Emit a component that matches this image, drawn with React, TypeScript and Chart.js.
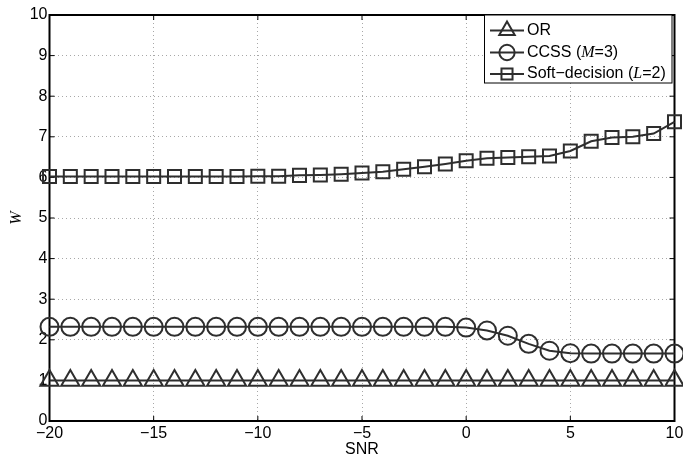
import React, { useEffect, useRef } from 'react';
import { Chart, registerables } from 'chart.js';

Chart.register(...registerables);

const snrValues = [-20, -19, -18, -17, -16, -15, -14, -13, -12, -11, -10, -9, -8, -7, -6, -5, -4, -3, -2, -1, 0, 1, 2, 3, 4, 5, 6, 7, 8, 9, 10];
const orValues = [1, 1, 1, 1, 1, 1, 1, 1, 1, 1, 1, 1, 1, 1, 1, 1, 1, 1, 1, 1, 1, 1, 1, 1, 1, 1, 1, 1, 1, 1, 1];
const ccssValues = [2.32, 2.32, 2.32, 2.32, 2.32, 2.32, 2.32, 2.32, 2.32, 2.32, 2.32, 2.32, 2.32, 2.32, 2.32, 2.32, 2.32, 2.32, 2.32, 2.32, 2.3, 2.23, 2.1, 1.9, 1.73, 1.67, 1.66, 1.66, 1.66, 1.66, 1.66];
const softValues = [6.02, 6.02, 6.02, 6.02, 6.02, 6.02, 6.02, 6.02, 6.02, 6.02, 6.03, 6.03, 6.05, 6.06, 6.08, 6.11, 6.14, 6.2, 6.26, 6.33, 6.41, 6.47, 6.49, 6.51, 6.53, 6.65, 6.89, 6.98, 7.0, 7.08, 7.37];
const xTickValues = [-20, -15, -10, -5, 0, 5, 10];
const yTickValues = [0, 1, 2, 3, 4, 5, 6, 7, 8, 9, 10];
const seriesNames = ['OR', 'CCSS (M=3)', 'Soft\u2013decision (L=2)'];
const legendParts = [
  [{ t: 'OR', i: false }],
  [{ t: 'CCSS (', i: false }, { t: 'M', i: true }, { t: '=3)', i: false }],
  [{ t: 'Soft\u2212decision (', i: false }, { t: 'L', i: true }, { t: '=2)', i: false }],
];
const xTitle = 'SNR';
const yTitle = 'W';

const LINE = '#2e2e2e';
const SANS = '"Liberation Sans", Arial, sans-serif';
const SERIF = '"Liberation Serif", "Times New Roman", serif';
const styles = ['triangle', 'circle', 'rect'];
const radii = [10.5, 9, 9.2];

function fmt(v: number) {
  return v < 0 ? '\u2212' + Math.abs(v) : String(v);
}

function drawMarker(ctx: CanvasRenderingContext2D, style: string, r: number, x: number, y: number) {
  ctx.beginPath();
  if (style === 'circle') {
    ctx.arc(x, y, r, 0, Math.PI * 2);
  } else if (style === 'rect') {
    const s = Math.SQRT1_2 * r;
    ctx.rect(x - s, y - s, 2 * s, 2 * s);
  } else {
    ctx.moveTo(x, y - r);
    ctx.lineTo(x + r * Math.sqrt(3) / 2, y + r / 2);
    ctx.lineTo(x - r * Math.sqrt(3) / 2, y + r / 2);
    ctx.closePath();
  }
  ctx.stroke();
}

const framePlugin = {
  id: 'frame',
  beforeDatasetsDraw(chart: any) {
    const { ctx, chartArea: a, scales } = chart;
    ctx.save();
    ctx.strokeStyle = '#000';
    ctx.lineWidth = 1;
    const tl = 5;
    ctx.beginPath();
    xTickValues.forEach((v) => {
      const px = scales.x.getPixelForValue(v);
      ctx.moveTo(px, a.bottom);
      ctx.lineTo(px, a.bottom - tl);
      ctx.moveTo(px, a.top);
      ctx.lineTo(px, a.top + tl);
    });
    yTickValues.forEach((v) => {
      const py = scales.y.getPixelForValue(v);
      ctx.moveTo(a.left, py);
      ctx.lineTo(a.left + tl, py);
      ctx.moveTo(a.right, py);
      ctx.lineTo(a.right - tl, py);
    });
    ctx.stroke();
    ctx.lineWidth = 2;
    ctx.strokeRect(a.left, a.top, a.right - a.left, a.bottom - a.top);
    ctx.restore();
  },
};

const legendPlugin = {
  id: 'customLegend',
  afterDraw(chart: any) {
    const { ctx, chartArea: a } = chart;
    const bx = 484.5;
    const by = a.top;
    const bw = 187.5;
    const bh = 68;
    ctx.save();
    ctx.fillStyle = '#fff';
    ctx.fillRect(bx, by, bw, bh);
    ctx.strokeStyle = '#000';
    ctx.lineWidth = 1;
    ctx.strokeRect(bx, by, bw, bh);
    const rowY = [by + 15.5, by + 37.5, by + 59];
    legendParts.forEach((parts, i) => {
      const y = rowY[i];
      ctx.strokeStyle = LINE;
      ctx.lineWidth = 2;
      ctx.beginPath();
      ctx.moveTo(490, y);
      ctx.lineTo(524, y);
      ctx.stroke();
      drawMarker(ctx, styles[i], radii[i] * 0.85, 507, y);
      let x = 527;
      ctx.fillStyle = '#000';
      ctx.textBaseline = 'middle';
      ctx.textAlign = 'left';
      parts.forEach((p) => {
        ctx.font = p.i ? `italic 16px ${SERIF}` : `16px ${SANS}`;
        ctx.fillText(p.t, x, y);
        x += ctx.measureText(p.t).width;
      });
    });
    ctx.restore();
  },
};

export default function App() {
  const ref = useRef<HTMLCanvasElement>(null);
  useEffect(() => {
    document.body.style.margin = '0';
    const canvas = ref.current!;
    const mk = (i: number, data: number[]) => ({
      label: seriesNames[i],
      data: snrValues.map((x, k) => ({ x, y: data[k] })),
      borderColor: LINE,
      borderWidth: 2,
      pointStyle: styles[i],
      pointRadius: radii[i],
      pointBorderColor: LINE,
      pointBorderWidth: 2,
      pointBackgroundColor: 'rgba(0,0,0,0)',
      tension: 0,
      clip: false,
    });
    const chart = new Chart(canvas, {
      type: 'line',
      data: {
        datasets: [mk(0, orValues), mk(1, ccssValues), mk(2, softValues)],
      },
      plugins: [framePlugin, legendPlugin],
      options: {
        animation: false,
        responsive: false,
        maintainAspectRatio: false,
        layout: { autoPadding: false, padding: { top: 15, right: 8.5, left: 0, bottom: 0 } },
        plugins: { legend: { display: false }, tooltip: { enabled: false } },
        scales: {
          x: {
            type: 'linear',
            min: -20,
            max: 10,
            afterBuildTicks: (s: any) => {
              s.ticks = xTickValues.map((v) => ({ value: v }));
            },
            afterFit: (s: any) => {
              s.height = 38;
              s.paddingLeft = 0;
              s.paddingRight = 0;
            },
            ticks: {
              autoSkip: false,
              maxRotation: 0,
              padding: 3,
              color: '#000',
              font: { family: SANS, size: 16 },
              callback: (v: any) => fmt(Number(v)),
            },
            grid: { color: '#a8a8a8', lineWidth: 1, drawTicks: false },
            border: { display: false, dash: [1, 3] },
            title: {
              display: true,
              text: xTitle,
              color: '#000',
              font: { family: SANS, size: 16 },
              padding: { top: 0, bottom: 0 },
            },
          },
          y: {
            type: 'linear',
            min: 0,
            max: 10,
            afterBuildTicks: (s: any) => {
              s.ticks = yTickValues.map((v) => ({ value: v }));
            },
            afterFit: (s: any) => {
              s.width = 49.5;
              s.paddingTop = 0;
              s.paddingBottom = 0;
            },
            ticks: {
              autoSkip: false,
              padding: 2,
              color: '#000',
              font: { family: SANS, size: 16 },
              callback: (v: any) => fmt(Number(v)),
            },
            grid: { color: '#a8a8a8', lineWidth: 1, drawTicks: false },
            border: { display: false, dash: [1, 3] },
            title: {
              display: true,
              text: yTitle,
              color: '#000',
              font: { family: SERIF, size: 16, style: 'italic' },
              padding: { top: 7, bottom: 0 },
            },
          },
        },
      },
    } as any);
    return () => chart.destroy();
  }, []);
  return <canvas ref={ref} width={683} height={459} style={{ display: 'block' }} />;
}
